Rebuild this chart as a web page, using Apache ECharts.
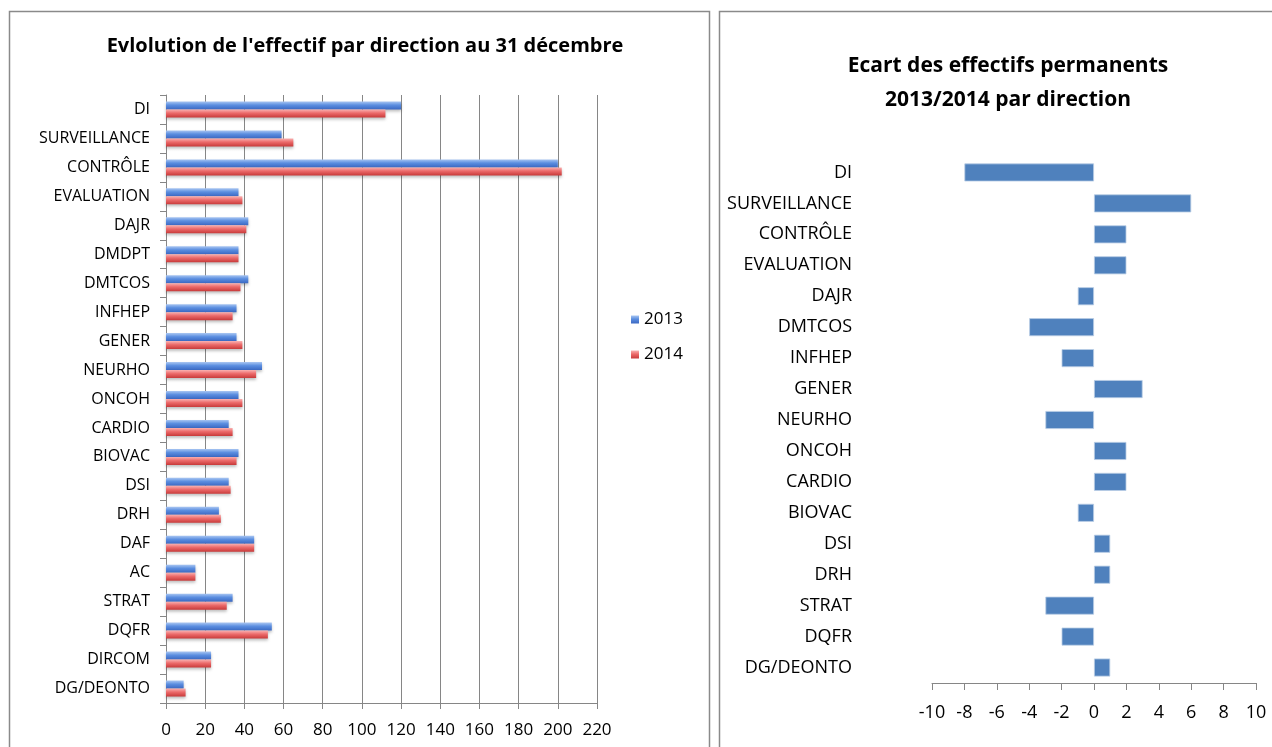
<!DOCTYPE html>
<html>
<head>
<meta charset="utf-8">
<script src="https://cdn.jsdelivr.net/npm/echarts@6/dist/echarts.min.js"></script>
<style>
  html, body { margin: 0; padding: 0; background: #fff; }
  #chart { width: 1272px; height: 747px; }
</style>
</head>
<body>
<div id="chart"></div>
<script>
// Effectif par direction au 31 décembre
const directions = ['DI', 'SURVEILLANCE', 'CONTRÔLE', 'EVALUATION', 'DAJR', 'DMDPT', 'DMTCOS', 'INFHEP', 'GENER', 'NEURHO', 'ONCOH', 'CARDIO', 'BIOVAC', 'DSI', 'DRH', 'DAF', 'AC', 'STRAT', 'DQFR', 'DIRCOM', 'DG/DEONTO'];
const effectif2013 = [120, 59, 200, 37, 42, 37, 42, 36, 36, 49, 37, 32, 37, 32, 27, 45, 15, 34, 54, 23, 9];
const effectif2014 = [112, 65, 202, 39, 41, 37, 38, 34, 39, 46, 39, 34, 36, 33, 28, 45, 15, 31, 52, 23, 10];
const effectifTicks = [0, 20, 40, 60, 80, 100, 120, 140, 160, 180, 200, 220];

// Ecart des effectifs permanents 2013/2014
const ecartDirections = ['DI', 'SURVEILLANCE', 'CONTRÔLE', 'EVALUATION', 'DAJR', 'DMTCOS', 'INFHEP', 'GENER', 'NEURHO', 'ONCOH', 'CARDIO', 'BIOVAC', 'DSI', 'DRH', 'STRAT', 'DQFR', 'DG/DEONTO'];
const ecartValues = [-8, 6, 2, 2, -1, -4, -2, 3, -3, 2, 2, -1, 1, 1, -3, -2, 1];
const ecartTicks = [-10, -8, -6, -4, -2, 0, 2, 4, 6, 8, 10];

const FONT = '"Open Sans", "Liberation Sans", sans-serif';
const GRID_GREY = '#868686';

const blueGrad = new echarts.graphic.LinearGradient(0, 0, 0, 1, [
  { offset: 0, color: '#a9c6f2' },
  { offset: 0.45, color: '#5b8ee0' },
  { offset: 1, color: '#3b68c2' }
]);
const redGrad = new echarts.graphic.LinearGradient(0, 0, 0, 1, [
  { offset: 0, color: '#f9b1b1' },
  { offset: 0.45, color: '#ec6a6a' },
  { offset: 1, color: '#c83a3a' }
]);

const chart = echarts.init(document.getElementById('chart'), null, { renderer: 'canvas' });

chart.setOption({
  backgroundColor: '#ffffff',
  animation: false,
  textStyle: { fontFamily: FONT, color: '#000' },
  title: [
    {
      text: "Evlolution de l'effectif par direction au 31 décembre",
      left: 360, top: 31, textAlign: 'center',
      textStyle: { fontFamily: FONT, fontSize: 20, fontWeight: 'bold', color: '#000' }
    },
    {
      text: 'Ecart des effectifs permanents\n2013/2014 par direction',
      left: 1003, top: 44, textAlign: 'center',
      textStyle: { fontFamily: FONT, fontSize: 21, fontWeight: 'bold', color: '#000', lineHeight: 34 }
    }
  ],
  legend: {
    data: ['2013', '2014'],
    orient: 'vertical',
    left: 626, top: 306,
    itemWidth: 8, itemHeight: 8, itemGap: 18,
    icon: 'rect',
    textStyle: { fontFamily: FONT, fontSize: 17, color: '#000' }
  },
  graphic: [
    { type: 'rect', shape: { x: 9.5, y: 11.5, width: 700, height: 800 }, style: { fill: 'none', stroke: '#8a8a8a', lineWidth: 1.5 }, silent: true },
    { type: 'rect', shape: { x: 719.5, y: 11.5, width: 600, height: 800 }, style: { fill: 'none', stroke: '#8a8a8a', lineWidth: 1.5 }, silent: true }
  ],
  grid: [
    { left: 166, right: 675, top: 95, bottom: 44 },
    { left: 932, right: 16, top: 157, bottom: 64 }
  ],
  xAxis: [
    {
      gridIndex: 0, type: 'value',
      min: effectifTicks[0], max: effectifTicks[effectifTicks.length - 1], interval: 20,
      axisLine: { show: true, lineStyle: { color: GRID_GREY } },
      axisTick: { show: true, length: 6, lineStyle: { color: GRID_GREY } },
      splitLine: { show: true, lineStyle: { color: GRID_GREY, width: 1 } },
      axisLabel: { fontFamily: FONT, fontSize: 17, color: '#000', margin: 19 }
    },
    {
      gridIndex: 1, type: 'value',
      min: ecartTicks[0], max: ecartTicks[ecartTicks.length - 1], interval: 2,
      axisLine: { show: true, onZero: false, lineStyle: { color: GRID_GREY } },
      axisTick: { show: true, length: 7, lineStyle: { color: GRID_GREY } },
      splitLine: { show: false },
      axisLabel: { fontFamily: FONT, fontSize: 18, color: '#000', margin: 21 }
    }
  ],
  yAxis: [
    {
      gridIndex: 0, type: 'category', data: directions, inverse: true,
      axisLine: { show: true, lineStyle: { color: GRID_GREY } },
      axisTick: { show: true, length: 6, lineStyle: { color: GRID_GREY } },
      axisLabel: { fontFamily: FONT, fontSize: 16, color: '#000', margin: 16 }
    },
    {
      gridIndex: 1, type: 'category', data: ecartDirections, inverse: true,
      axisLine: { show: false },
      axisTick: { show: false },
      axisLabel: { fontFamily: FONT, fontSize: 18, color: '#000', margin: 80 }
    }
  ],
  series: [
    {
      name: '2013', type: 'bar', xAxisIndex: 0, yAxisIndex: 0,
      data: effectif2013, barWidth: 8, barGap: '0%',
      itemStyle: { color: blueGrad, shadowColor: 'rgba(0,0,0,0.25)', shadowBlur: 3, shadowOffsetY: 2 }
    },
    {
      name: '2014', type: 'bar', xAxisIndex: 0, yAxisIndex: 0,
      data: effectif2014, barWidth: 8, barGap: '0%',
      itemStyle: { color: redGrad, shadowColor: 'rgba(0,0,0,0.25)', shadowBlur: 3, shadowOffsetY: 2 }
    },
    {
      name: 'Ecart', type: 'bar', xAxisIndex: 1, yAxisIndex: 1,
      data: ecartValues, barWidth: 18,
      itemStyle: { color: '#4f81bd', borderColor: '#b9cde5', borderWidth: 0.8 }
    }
  ]
});
</script>
</body>
</html>
